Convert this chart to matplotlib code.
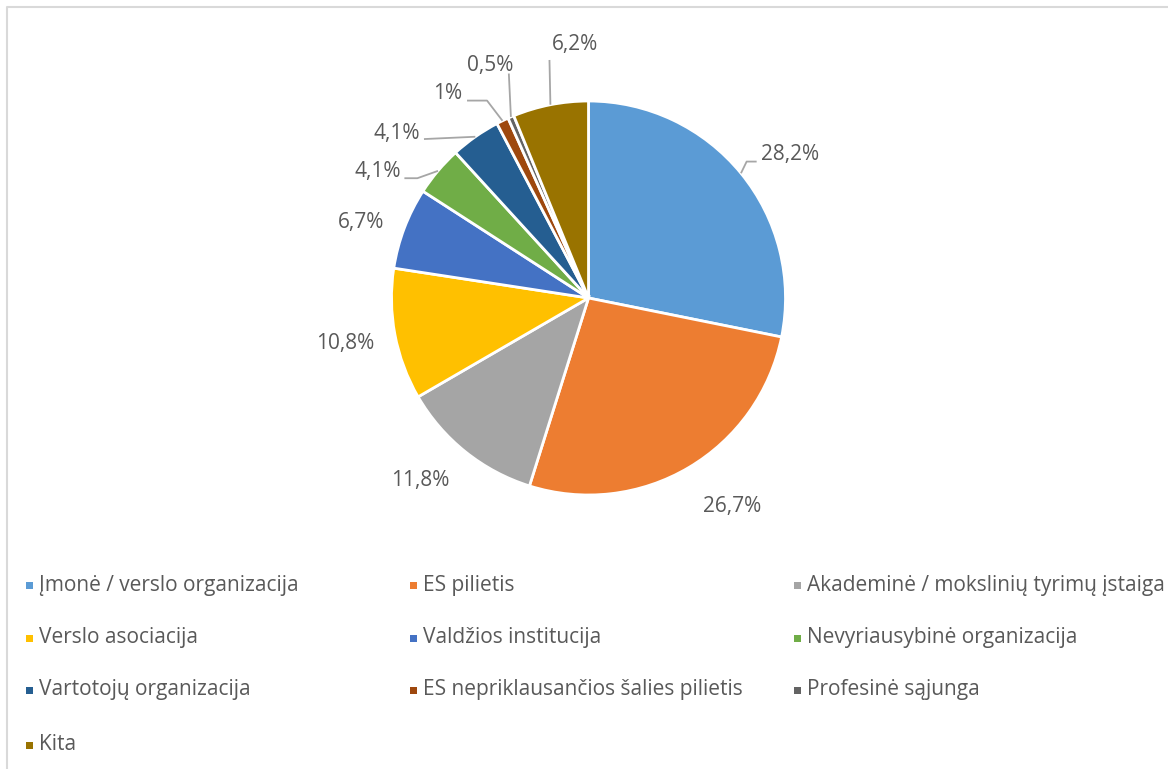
import matplotlib
matplotlib.use('Agg')
import numpy as np
import matplotlib.pyplot as plt
from matplotlib.patches import Rectangle
from matplotlib.lines import Line2D

plt.rcParams['font.family'] = ['Open Sans', 'DejaVu Sans']

# duomenys
categories = ['Įmonė / verslo organizacija', 'ES pilietis', 'Akademinė / mokslinių tyrimų įstaiga',
              'Verslo asociacija', 'Valdžios institucija', 'Nevyriausybinė organizacija',
              'Vartotojų organizacija', 'ES nepriklausančios šalies pilietis', 'Profesinė sąjunga', 'Kita']
shares = [28.2, 26.7, 11.8, 10.8, 6.7, 4.1, 4.1, 1.0, 0.5, 6.2]
colors = ['#5B9BD5', '#ED7D31', '#A5A5A5', '#FFC000', '#4472C4', '#70AD47',
          '#255E91', '#9E480E', '#636363', '#997300']

# etikečių išdėstymas (kampo pataisa laipsniais, atstumas spinduliais)
label_dang = [-3.8, 3.9, -4.0, 0.0, 2.5, 9.2, 14.2, 8.6, -0.2, -8.2]
label_r = [1.254, 1.284, 1.262, 1.257, 1.218, 1.25, 1.283, 1.259, 1.282, 1.286]
# vedamosios linijos: indeksas -> (galo poslinkis nuo etiketės px, lūžio poslinkis nuo galo px)
leaders = {0: ((-33, 7), (-10, 0)), 5: ((27, 7), (13, 0)), 6: ((27, 6), (0, 0)),
           7: ((19, 7), (20, 0)), 8: ((19, 8), (0, 0)), 9: ((-26, 15), (0, 0))}

W, H = 1168, 769
CX, CY, R = 588.5, 298, 197
TXT = '#595959'
FS = 15

fig = plt.figure(figsize=(W / 100, H / 100), dpi=100)
ax = fig.add_axes([0, 0, 1, 1])

wedges, _ = ax.pie(shares, colors=colors, startangle=90, counterclock=False, radius=1,
                   wedgeprops=dict(edgecolor='white', linewidth=2))
ax.set_xlim(-CX / R, (W - CX) / R)
ax.set_ylim(-(H - CY) / R, CY / R)
ax.set_aspect('auto')
ax.axis('off')


def px(dx, dy):
    return dx / R, -dy / R


for i, (w, v) in enumerate(zip(wedges, shares)):
    mid = np.deg2rad((w.theta1 + w.theta2) / 2)
    ang = mid + np.deg2rad(label_dang[i])
    lx, ly = label_r[i] * np.cos(ang), label_r[i] * np.sin(ang)
    txt = f'{v:g}'.replace('.', ',') + '%'
    ax.text(lx, ly, txt, ha='center', va='center', fontsize=FS, color=TXT)
    if i in leaders:
        eo, bo = leaders[i]
        ex, ey = px(*eo)
        end = (lx + ex, ly + ey)
        bx, by = px(*bo)
        elbow = (end[0] + bx, end[1] + by)
        edge = (np.cos(mid), np.sin(mid))
        ax.plot([end[0], elbow[0], edge[0]], [end[1], elbow[1], edge[1]],
                color='#A6A6A6', lw=1.3, solid_capstyle='butt')

# legenda
row_y = [585, 638, 690, 745]
col_x = [29, 413, 797]
for i, (name, c) in enumerate(zip(categories, colors)):
    x = col_x[i % 3]
    y = row_y[i // 3]
    fig.add_artist(Rectangle(((x - 3.5) / W, 1 - (y + 3.5) / H), 7 / W, 7 / H,
                             transform=fig.transFigure, facecolor=c, edgecolor='none'))
    fig.text((x + 10) / W, 1 - y / H, name, ha='left', va='center', fontsize=FS, color=TXT)

# rėmelis
fig.add_artist(Line2D([7 / W, 7 / W, 1], [0, 1 - 7 / H, 1 - 7 / H], transform=fig.transFigure,
                      color='#D9D9D9', lw=1.5))

fig.savefig('out.png', dpi=100)
